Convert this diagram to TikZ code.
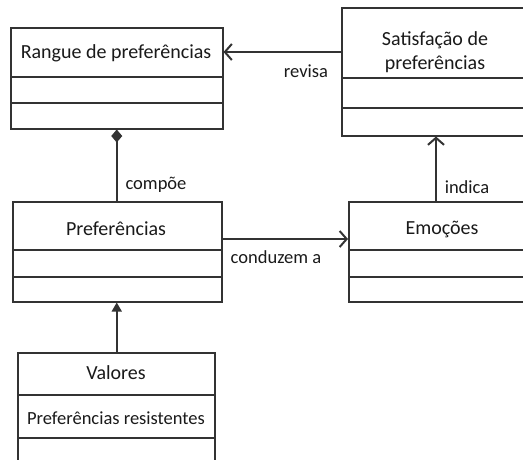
\documentclass[tikz,border=0pt]{standalone}
\usepackage{fontspec}
\setmainfont{Carlito}
\usetikzlibrary{arrows.meta}
\definecolor{lc}{HTML}{333333}
\definecolor{tc}{HTML}{1A1A1A}
\begin{document}
\begin{tikzpicture}[x=1pt,y=-1pt,
  box/.style={draw=lc, line width=1.5pt, fill=white, inner sep=0pt, anchor=north west},
  title/.style={text=tc, font=\fontsize{20}{24}\selectfont, align=center, inner sep=0pt},
  attr/.style={text=tc, font=\fontsize{18.5}{22}\selectfont, inner sep=0pt},
  lbl/.style={text=tc, font=\fontsize{18.5}{22}\selectfont, inner sep=0pt},
  conn/.style={draw=lc, line width=1.5pt},
  openarrow/.style={conn, -{Straight Barb[length=7pt,width=16pt,line width=2pt]}},
  comp/.style={conn, {Diamond[length=13pt,width=11pt,fill=lc]}-},
  gen/.style={conn, -{Triangle[length=9pt,width=10pt,fill=lc]}},
  divider/.style={draw=lc, line width=1.5pt}
]
\useasboundingbox (0,0) rectangle (523,459);
\fill[white] (0,0) rectangle (523,459);
\clip (0,0) rectangle (523,459);

% Rangue de preferencias
\node[box, minimum width=212pt, minimum height=101pt] (rangue) at (10,27) {};
\draw[divider] ([yshift=-50pt]rangue.north west) -- ([yshift=-50pt]rangue.north east);
\draw[divider] ([yshift=-76pt]rangue.north west) -- ([yshift=-76pt]rangue.north east);
\node[title] (rangueT) at (116,53) {Rangue de preferências};

% Satisfacao de preferencias
\node[box, minimum width=190pt, minimum height=128pt] (sat) at (341,7) {};
\draw[divider] ([yshift=-71pt]sat.north west) -- ([yshift=-71pt]sat.north east);
\draw[divider] ([yshift=-101pt]sat.north west) -- ([yshift=-101pt]sat.north east);
\node[title] (satT) at (435,52) {Satisfação de\\preferências};

% Preferencias
\node[box, minimum width=209pt, minimum height=100pt] (pref) at (12,201) {};
\draw[divider] ([yshift=-49pt]pref.north west) -- ([yshift=-49pt]pref.north east);
\draw[divider] ([yshift=-76pt]pref.north west) -- ([yshift=-76pt]pref.north east);
\node[title] (prefT) at (116,229) {Preferências};

% Emocoes
\node[box, minimum width=190pt, minimum height=100pt] (emo) at (348,201) {};
\draw[divider] ([yshift=-49pt]emo.north west) -- ([yshift=-49pt]emo.north east);
\draw[divider] ([yshift=-76pt]emo.north west) -- ([yshift=-76pt]emo.north east);
\node[title] (emoT) at (442,229) {Emoções};

% Valores
\node[box, minimum width=197pt, minimum height=130pt] (val) at (17,352) {};
\draw[divider] ([yshift=-43pt]val.north west) -- ([yshift=-43pt]val.north east);
\draw[divider] ([yshift=-86pt]val.north west) -- ([yshift=-86pt]val.north east);
\node[title] (valT) at (116,373) {Valores};
\node[attr] (valA) at (116,418) {Preferências resistentes};

% Connectors
\draw[openarrow] ([yshift=-45pt]sat.north west) coordinate (r1) -- (r1 -| rangue.east);
\node[lbl] (revisa) at (306,71) {revisa};

\draw[comp] (rangue.south) -- (rangue.south |- pref.north);
\node[lbl] (compoe) at (156,185) {compõe};

\draw[openarrow] ([yshift=-38pt]pref.north east) coordinate (c1) -- (c1 -| emo.west);
\node[lbl] (conduzem) at (276,257) {conduzem a};

\draw[openarrow] ([xshift=88pt]emo.north west) coordinate (i1) -- (i1 |- sat.south);
\node[lbl] (indica) at (467,187) {indica};

\draw[gen] (val.north -| rangue.south) -- (rangue.south |- pref.south);
\end{tikzpicture}
\end{document}
